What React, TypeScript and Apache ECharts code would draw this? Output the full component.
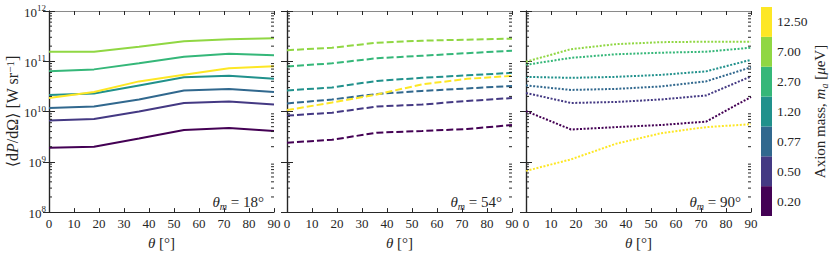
import React, { useEffect, useRef } from "react";
import * as echarts from "echarts";

const thetas = [0, 18, 36, 54, 72, 90];
const masses = ["0.20", "0.50", "0.77", "1.20", "2.70", "7.00", "12.50"];
const colors = ["#440154", "#443983", "#31688e", "#21918c", "#35b779", "#90d743", "#fde725"];
const panelLabels = ["18°", "54°", "90°"];
const lineTypes: any[] = ["solid", [7, 3], [2, 1.6]];

// Panel θm = 18° (one row per axion mass, ordered as `masses`)
const panel18 = [
  [1.9e9, 2.0e9, 2.9e9, 4.3e9, 4.7e9, 4.1e9],
  [6.6e9, 7.1e9, 1.0e10, 1.48e10, 1.58e10, 1.38e10],
  [1.17e10, 1.26e10, 1.74e10, 2.63e10, 2.82e10, 2.45e10],
  [2.14e10, 2.29e10, 3.31e10, 4.79e10, 5.13e10, 4.47e10],
  [6.3e10, 6.9e10, 9.1e10, 1.23e11, 1.41e11, 1.32e11],
  [1.55e11, 1.55e11, 1.95e11, 2.51e11, 2.75e11, 2.88e11],
  [1.86e10, 2.45e10, 3.98e10, 5.37e10, 7.24e10, 7.94e10],
];
// Panel θm = 54°
const panel54 = [
  [2.4e9, 2.75e9, 3.8e9, 4.1e9, 4.5e9, 5.4e9],
  [8.3e9, 9.5e9, 1.26e10, 1.38e10, 1.62e10, 1.86e10],
  [1.45e10, 1.74e10, 2.24e10, 2.57e10, 2.88e10, 3.24e10],
  [2.63e10, 3.02e10, 4.07e10, 4.68e10, 5.25e10, 5.89e10],
  [7.9e10, 9.1e10, 1.15e11, 1.29e11, 1.45e11, 1.62e11],
  [1.66e11, 1.86e11, 2.34e11, 2.57e11, 2.69e11, 2.82e11],
  [1.07e10, 1.51e10, 2.19e10, 3.47e10, 4.47e10, 5.13e10],
];
// Panel θm = 90°
const panel90 = [
  [1.02e10, 4.4e9, 4.9e9, 5.4e9, 6.3e9, 1.95e10],
  [2.34e10, 1.48e10, 1.55e10, 1.74e10, 2.09e10, 5.0e10],
  [3.31e10, 2.69e10, 2.82e10, 3.16e10, 3.98e10, 7.6e10],
  [4.9e10, 4.68e10, 4.9e10, 5.37e10, 6.3e10, 1.07e11],
  [8.5e10, 1.17e11, 1.38e11, 1.48e11, 1.55e11, 1.86e11],
  [9.8e10, 1.74e11, 2.19e11, 2.4e11, 2.45e11, 2.45e11],
  [6.6e8, 1.12e9, 2.29e9, 3.7e9, 4.9e9, 5.6e9],
];
const panels = [panel18, panel54, panel90];

const FONT = "'Liberation Serif', 'DejaVu Serif', serif";
const DARK = "#262626";

export default function App() {
  const ref = useRef<HTMLDivElement>(null);
  useEffect(() => {
    document.body.style.margin = "0";
    const chart = echarts.init(ref.current!, null, { renderer: "svg" });

    const minorVals: number[] = [];
    for (let e = 8; e < 12; e++) for (let k = 2; k <= 9; k++) minorVals.push(k * Math.pow(10, e));

    const gridLefts = [49, 287, 526];
    const grids: any[] = gridLefts.map((l) => ({ left: l, top: 11, width: 225, height: 205 }));
    grids.push({ left: 761, top: 7, width: 11, height: 209 });

    const xAxes: any[] = [];
    const yAxes: any[] = [];
    const series: any[] = [];
    const graphics: any[] = [];

    const richBase = {
      i: { fontStyle: "italic", fontFamily: FONT, fontSize: 15, color: DARK },
      sub: { fontStyle: "italic", fontFamily: FONT, fontSize: 10, color: DARK, verticalAlign: "bottom", padding: [0, 0, -2, 0] },
      s: { fontFamily: FONT, fontSize: 9, color: DARK, verticalAlign: "top", padding: [0, 0, 2, 0] },
      b: { fontFamily: FONT, fontSize: 13, color: DARK, padding: [2, 0, 0, 0] },
    };

    for (let p = 0; p < 3; p++) {
      xAxes.push({
        gridIndex: p, type: "value", min: 0, max: 90, interval: 10, position: "bottom",
        axisLine: { lineStyle: { color: DARK, width: 1.2 } },
        axisTick: { inside: true, length: 4, lineStyle: { color: DARK } },
        axisLabel: { fontFamily: FONT, fontSize: 13, color: DARK, margin: 5 },
        splitLine: { show: false },
        name: "{i|θ} [°]", nameLocation: "middle", nameGap: 20,
        nameTextStyle: { fontFamily: FONT, fontSize: 15, color: DARK, rich: richBase },
      });
      xAxes.push({
        gridIndex: p, type: "value", min: 0, max: 90, interval: 10, position: "top",
        axisLine: { lineStyle: { color: "#8a8a8a", width: 1.2 } },
        axisTick: { inside: true, length: 4, lineStyle: { color: DARK } },
        axisLabel: { show: false },
        splitLine: { show: false },
      });
      yAxes.push({
        gridIndex: p, type: "log", logBase: 10, min: 1e8, max: 1e12, position: "left",
        axisLine: { show: true, lineStyle: { color: DARK, width: 1.2 } },
        axisTick: { show: true, inside: true, length: 6, lineStyle: { color: DARK } },
        axisLabel: {
          show: p === 0, margin: 3,
          formatter: (v: number) => `{b|10}{s|${Math.round(Math.log10(v))}}`,
          rich: richBase,
        },
        splitLine: { show: false },
        ...(p === 0
          ? {
              name: "⟨d{i|P}/dΩ⟩ [W sr{s|−1}]", nameLocation: "middle", nameGap: 23, nameRotate: 90,
              nameTextStyle: {
                fontFamily: FONT, fontSize: 16, color: DARK,
                rich: { i: { ...richBase.i, fontSize: 16 }, s: { fontFamily: FONT, fontSize: 11, color: DARK, verticalAlign: "top" } },
              },
            }
          : {}),
      });
      yAxes.push({
        gridIndex: p, type: "log", logBase: 10, min: 1e8, max: 1e12, position: "right",
        axisLine: { show: true, lineStyle: { color: DARK, width: 1.2 } },
        axisTick: { show: true, inside: true, length: 6, lineStyle: { color: DARK } },
        axisLabel: { show: false },
        splitLine: { show: false },
      });

      const data = panels[p];
      for (let m = 0; m < masses.length; m++) {
        series.push({
          type: "line", xAxisIndex: 2 * p, yAxisIndex: 2 * p, showSymbol: false, symbol: "none",
          data: thetas.map((t, j) => [t, data[m][j]]),
          lineStyle: { color: colors[m], width: 2, type: lineTypes[p] },
          z: 3,
        });
      }
      series.push({
        type: "custom", xAxisIndex: 2 * p, yAxisIndex: 2 * p, silent: true, z: 4,
        data: minorVals.map((v) => [0, v]),
        renderItem: (_params: any, api: any) => {
          const v = api.value(1);
          const l = api.coord([0, v]);
          const r = api.coord([90, v]);
          return {
            type: "group",
            children: [
              { type: "line", shape: { x1: l[0], y1: l[1], x2: l[0] + 3, y2: l[1] }, style: { stroke: DARK, lineWidth: 1 } },
              { type: "line", shape: { x1: r[0] - 3, y1: r[1], x2: r[0], y2: r[1] }, style: { stroke: DARK, lineWidth: 1 } },
            ],
          };
        },
      });

      graphics.push({
        type: "text",
        x: gridLefts[p] + 215, y: 202,
        style: {
          text: `{i|θ}{sub|m} = ${panelLabels[p]}`,
          align: "right", verticalAlign: "middle",
          fontFamily: FONT, fontSize: 15, fill: DARK,
          rich: richBase,
        },
      });
    }

    // colorbar
    xAxes.push({ gridIndex: 3, type: "value", min: 0, max: 1, show: false });
    yAxes.push({
      gridIndex: 3, type: "category", data: masses, position: "right",
      axisLine: { show: false },
      axisTick: { show: true, alignWithLabel: true, length: 3, lineStyle: { color: DARK } },
      axisLabel: { fontFamily: FONT, fontSize: 13.5, color: DARK, margin: 5 },
      name: "Axion mass, {i|m}{sub|a} [{i|μ}eV]", nameLocation: "middle", nameGap: 40, nameRotate: 90,
      nameTextStyle: { fontFamily: FONT, fontSize: 15, color: DARK, rich: richBase },
    });
    series.push({
      type: "bar", xAxisIndex: 6, yAxisIndex: 6, barWidth: "100%", barCategoryGap: "0%",
      data: masses.map((_, i) => ({ value: 1, itemStyle: { color: colors[i] } })),
    });

    chart.setOption({
      animation: false,
      backgroundColor: "#ffffff",
      grid: grids,
      xAxis: xAxes,
      yAxis: yAxes,
      series,
      graphic: graphics,
    });
    return () => chart.dispose();
  }, []);
  return <div ref={ref} style={{ width: 830, height: 255 }} />;
}
